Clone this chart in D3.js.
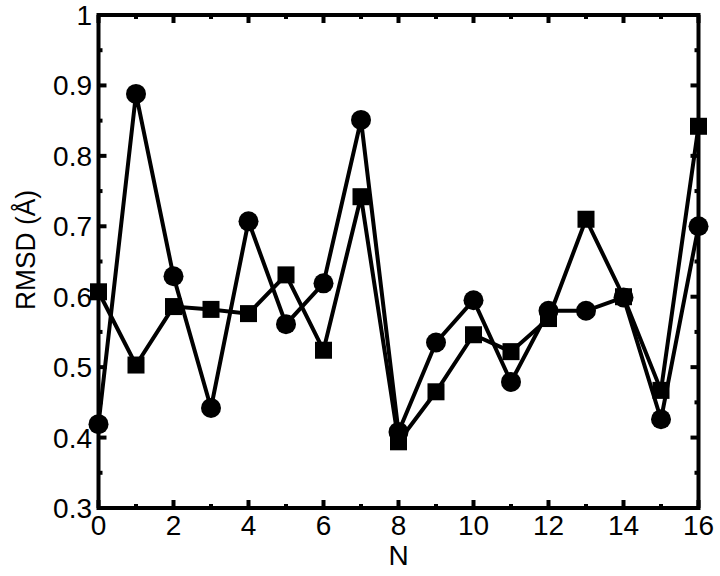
<!DOCTYPE html>
<html><head><meta charset="utf-8">
<script src="https://cdn.jsdelivr.net/npm/d3@7"></script>
<style>body{margin:0;background:#fff}svg{display:block}text{font-family:"Liberation Sans",Arial,Helvetica,sans-serif}</style>
</head><body>
<svg id="c" width="720" height="576"></svg>
<script>
const nValues = [0,1,2,3,4,5,6,7,8,9,10,11,12,13,14,15,16];
const circleSeries = [0.419,0.888,0.629,0.442,0.707,0.561,0.619,0.851,0.408,0.535,0.595,0.479,0.580,0.580,0.599,0.426,0.700];
const squareSeries = [0.607,0.503,0.586,0.582,0.576,0.631,0.524,0.742,0.394,0.465,0.546,0.522,0.569,0.710,0.600,0.467,0.842];
const xTicks = [0,2,4,6,8,10,12,14,16];
const yTicks = [0.3,0.4,0.5,0.6,0.7,0.8,0.9,1];
const xMinor = [1,3,5,7,9,11,13,15];
const yMinor = [0.35,0.45,0.55,0.65,0.75,0.85,0.95];

const svg = d3.select("#c");
const L=98.5,R=698.5,T=15,B=508;
const x = d3.scaleLinear().domain([0,16]).range([L,R]);
const y = d3.scaleLinear().domain([0.3,1]).range([B,T]);

// ticks (inward)
const g = svg.append("g");
xTicks.forEach(v=>{
  g.append("line").attr("x1",x(v)).attr("x2",x(v)).attr("y1",B).attr("y2",B-8).attr("stroke","#000").attr("stroke-width",4);
  g.append("line").attr("x1",x(v)).attr("x2",x(v)).attr("y1",T).attr("y2",T+8).attr("stroke","#000").attr("stroke-width",4);
});
xMinor.forEach(v=>{
  g.append("line").attr("x1",x(v)).attr("x2",x(v)).attr("y1",B).attr("y2",B-4).attr("stroke","#000").attr("stroke-width",4);
  g.append("line").attr("x1",x(v)).attr("x2",x(v)).attr("y1",T).attr("y2",T+4).attr("stroke","#000").attr("stroke-width",4);
});
yTicks.forEach(v=>{
  g.append("line").attr("x1",L).attr("x2",L+8).attr("y1",y(v)).attr("y2",y(v)).attr("stroke","#000").attr("stroke-width",4);
  g.append("line").attr("x1",R).attr("x2",R-8).attr("y1",y(v)).attr("y2",y(v)).attr("stroke","#000").attr("stroke-width",4);
});
yMinor.forEach(v=>{
  g.append("line").attr("x1",L).attr("x2",L+4).attr("y1",y(v)).attr("y2",y(v)).attr("stroke","#000").attr("stroke-width",4);
  g.append("line").attr("x1",R).attr("x2",R-4).attr("y1",y(v)).attr("y2",y(v)).attr("stroke","#000").attr("stroke-width",4);
});

// lines
const line = d3.line().x((d,i)=>x(nValues[i])).y(d=>y(d));
svg.append("path").datum(squareSeries).attr("d",line).attr("fill","none").attr("stroke","#000").attr("stroke-width",4).attr("stroke-linejoin","miter");
svg.append("path").datum(circleSeries).attr("d",line).attr("fill","none").attr("stroke","#000").attr("stroke-width",4).attr("stroke-linejoin","miter");

svg.selectAll("rect.sq").data(squareSeries).enter().append("rect").attr("class","sq")
  .attr("x",(d,i)=>x(nValues[i])-8.5).attr("y",d=>y(d)-8.5).attr("width",17).attr("height",17).attr("fill","#000");
svg.selectAll("circle.ci").data(circleSeries).enter().append("circle").attr("class","ci")
  .attr("cx",(d,i)=>x(nValues[i])).attr("cy",d=>y(d)).attr("r",10).attr("fill","#000");

// frame
svg.append("rect").attr("x",L).attr("y",T).attr("width",R-L).attr("height",B-T).attr("fill","none").attr("stroke","#000").attr("stroke-width",4);

// labels
xTicks.forEach(v=>{
  svg.append("text").attr("x",x(v)).attr("y",535).attr("text-anchor","middle").attr("font-size",28).text(v);
});
yTicks.forEach(v=>{
  svg.append("text").attr("x",92).attr("y",y(v)+10).attr("text-anchor","end").attr("font-size",28).text(v===1?"1":v.toFixed(1));
});
svg.append("text").attr("x",x(8)).attr("y",565).attr("text-anchor","middle").attr("font-size",28).text("N");
svg.append("text").attr("transform","translate(35,250) rotate(-90)").attr("text-anchor","middle").attr("font-size",28)
  .attr("textLength",120).attr("lengthAdjust","spacingAndGlyphs").text("RMSD (Å)");
</script>
</body></html>
